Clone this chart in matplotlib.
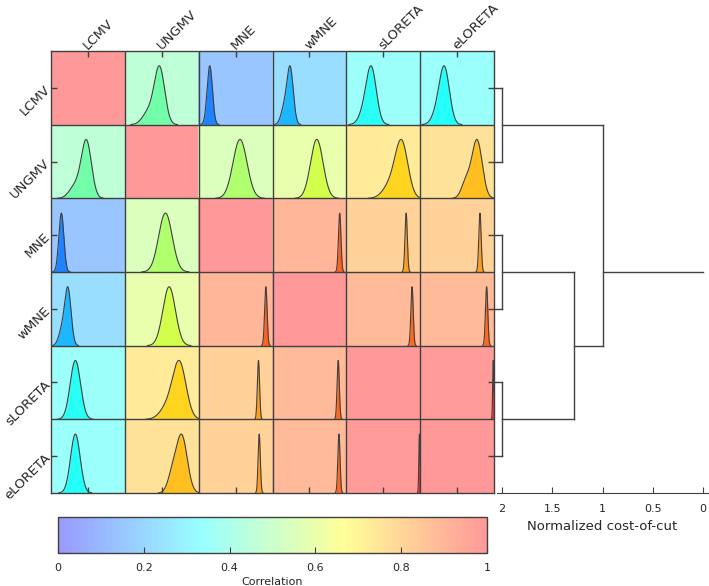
import matplotlib
matplotlib.use('Agg')
import matplotlib.pyplot as plt
import numpy as np
from matplotlib.colors import LinearSegmentedColormap
from matplotlib.cm import ScalarMappable
from matplotlib.colors import Normalize

# methods (rows / columns of the matrix)
methods = ['LCMV', 'UNGMV', 'MNE', 'wMNE', 'sLORETA', 'eLORETA']

# mean correlation between each pair of methods (cell background)
mean_corr = np.array([
    [1.00, 0.46, 0.15, 0.23, 0.35, 0.34],
    [0.46, 1.00, 0.55, 0.60, 0.73, 0.76],
    [0.15, 0.55, 1.00, 0.90, 0.81, 0.81],
    [0.23, 0.60, 0.90, 1.00, 0.89, 0.89],
    [0.35, 0.73, 0.81, 0.89, 1.00, 0.99],
    [0.34, 0.76, 0.81, 0.89, 0.99, 1.00],
])

# distribution of correlations: main peak location / width
peak_mu = np.array([
    [0.00, 0.47, 0.15, 0.24, 0.34, 0.33],
    [0.48, 0.00, 0.56, 0.60, 0.75, 0.77],
    [0.14, 0.55, 0.00, 0.91, 0.81, 0.81],
    [0.23, 0.60, 0.91, 0.00, 0.89, 0.90],
    [0.33, 0.74, 0.81, 0.89, 0.00, 0.99],
    [0.33, 0.77, 0.82, 0.90, 0.99, 0.00],
])
peak_sd = np.array([
    [0.000, 0.070, 0.036, 0.042, 0.068, 0.068],
    [0.068, 0.000, 0.095, 0.085, 0.085, 0.070],
    [0.034, 0.092, 0.000, 0.017, 0.016, 0.016],
    [0.042, 0.085, 0.017, 0.000, 0.016, 0.016],
    [0.070, 0.090, 0.015, 0.015, 0.000, 0.008],
    [0.065, 0.075, 0.015, 0.015, 0.008, 0.000],
])
# left shoulders of some distributions: (row, col, mu, sd, weight)
shoulders = [
    (0, 1, 0.32, 0.08, 0.22),
    (1, 0, 0.33, 0.08, 0.22),
    (0, 3, 0.16, 0.045, 0.30),
    (3, 0, 0.15, 0.045, 0.28),
    (0, 4, 0.24, 0.07, 0.20),
    (0, 5, 0.23, 0.07, 0.20),
    (1, 4, 0.60, 0.10, 0.25),
    (4, 1, 0.58, 0.10, 0.22),
    (1, 5, 0.62, 0.06, 0.28),
    (5, 1, 0.64, 0.06, 0.28),
]

# hierarchical clustering: (left child, right child, cost-of-cut)
# leaves 0..5, new clusters numbered from 6
merges = [(0, 1, 2.0), (2, 3, 2.0), (4, 5, 2.0), (7, 8, 1.28), (6, 9, 1.0)]
leaf_level = 2.08

edge = '#404040'
txt = '#262626'

base_cmap = LinearSegmentedColormap.from_list(
    'bcyr', [(0, 0, 1), (0, 1, 1), (1, 1, 0), (1, 0, 0)])
pale_cmap = LinearSegmentedColormap.from_list(
    'bcyr_pale', [(0.6, 0.6, 1), (0.6, 1, 1), (1, 1, 0.6), (1, 0.6, 0.6)])

W, H = 709, 586
fig = plt.figure(figsize=(W / 100, H / 100), dpi=100)


def px_axes(l, t, r, b):
    return fig.add_axes([l / W, 1 - b / H, (r - l) / W, (b - t) / H])


# ---- correlation matrix with distributions ----
ax = px_axes(51, 51, 494, 493)
n = len(methods)
ax.imshow(mean_corr, cmap=pale_cmap, vmin=0, vmax=1, extent=(0, n, n, 0),
          interpolation='nearest', aspect='auto')

xs = np.linspace(0, 1, 2000)
for i in range(n):
    for j in range(n):
        if i == j:
            continue
        d = np.exp(-0.5 * ((xs - peak_mu[i, j]) / peak_sd[i, j]) ** 2)
        for (r, c, mu2, sd2, w2) in shoulders:
            if r == i and c == j:
                d = d + w2 * np.exp(-0.5 * ((xs - mu2) / sd2) ** 2)
        d = 0.8 * d / d.max()
        mask = d > 0.002
        x = j + xs[mask]
        y = i + 1 - d[mask]
        ax.fill_between(x, i + 1, y, color=base_cmap(mean_corr[i, j]),
                        alpha=0.8, lw=0)
        ax.plot(x, y, color=edge, lw=0.8)

for k in range(1, n):
    ax.axhline(k, color=edge, lw=1)
    ax.axvline(k, color=edge, lw=1)

ax.set_xlim(0, n)
ax.set_ylim(n, 0)
ticks = np.arange(n) + 0.5
ax.set_xticks(ticks)
ax.set_yticks(ticks)
ax.tick_params(direction='in', length=4, width=1, color=edge,
               top=True, bottom=True, left=True, right=True,
               labeltop=True, labelbottom=False, labelleft=True,
               labelright=False, labelsize=9.5, labelcolor=txt)
ax.tick_params(axis='x', pad=1)
ax.tick_params(axis='y', pad=2)
ax.set_xticklabels(methods, rotation=45, ha='left', va='baseline',
                   rotation_mode='anchor')
ax.set_yticklabels(methods, rotation=45, ha='right', va='center',
                   rotation_mode='anchor')
for s in ax.spines.values():
    s.set_color(edge)
    s.set_linewidth(1)

# ---- dendrogram ----
dax = px_axes(497, 51, 708, 493)
pos = {k: k + 0.5 for k in range(n)}
height = {k: leaf_level for k in range(n)}
leaves = {k: [k] for k in range(n)}
for idx, (a, b, h) in enumerate(merges):
    new = n + idx
    for c in (a, b):
        dax.plot([height[c], h], [pos[c], pos[c]], color=edge, lw=1,
                 clip_on=False)
    dax.plot([h, h], [pos[a], pos[b]], color=edge, lw=1, clip_on=False)
    leaves[new] = leaves[a] + leaves[b]
    pos[new] = np.mean([p + 0.5 for p in leaves[new]])
    height[new] = h
root = n + len(merges) - 1
dax.plot([height[root], 0], [pos[root], pos[root]], color=edge, lw=1)

dax.set_xlim(2.05, -0.05)
dax.set_ylim(n, 0)
dax.set_xticks([2, 1.5, 1, 0.5, 0])
dax.set_xticklabels(['2', '1.5', '1', '0.5', '0'])
dax.set_yticks([])
for side in ('top', 'left', 'right'):
    dax.spines[side].set_visible(False)
dax.spines['bottom'].set_color(edge)
dax.tick_params(axis='x', direction='in', length=4, color=edge,
                labelsize=8, labelcolor=txt, pad=8)
dax.set_xlabel('Normalized cost-of-cut', fontsize=9.5, color=txt, labelpad=4)
dax.patch.set_visible(False)

# ---- colorbar ----
cax = px_axes(58, 517, 487, 553)
sm = ScalarMappable(norm=Normalize(0, 1), cmap=pale_cmap)
cb = fig.colorbar(sm, cax=cax, orientation='horizontal')
cb.set_ticks([0, 0.2, 0.4, 0.6, 0.8, 1])
cb.set_ticklabels(['0', '0.2', '0.4', '0.6', '0.8', '1'])
cb.ax.tick_params(direction='in', length=4, color=edge, labelsize=8,
                  labelcolor=txt, pad=7)
cb.outline.set_edgecolor(edge)
cb.outline.set_linewidth(1)
cb.set_label('Correlation', fontsize=8, color=txt, labelpad=3)

fig.savefig('out.png', dpi=100)
